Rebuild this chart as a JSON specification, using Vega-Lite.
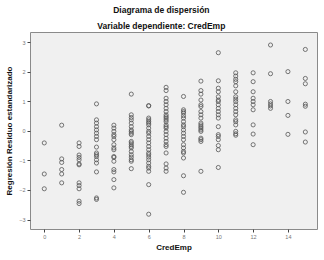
{
  "$schema": "https://vega.github.io/schema/vega-lite/v6.json",
  "width": 287,
  "height": 197,
  "autosize": {"type": "none"},
  "padding": {"left": 30, "top": 32, "right": 7, "bottom": 31},
  "background": "white",
  "title": {
    "text": "Diagrama de dispersión",
    "subtitle": "Variable dependiente: CredEmp",
    "anchor": "middle",
    "frame": "bounds",
    "font": "Liberation Sans",
    "fontSize": 8.5,
    "fontWeight": "bold",
    "color": "#111",
    "subtitleFont": "Liberation Sans",
    "subtitleFontSize": 8.5,
    "subtitleFontWeight": "bold",
    "subtitleColor": "#111",
    "subtitlePadding": 7,
    "offset": 2
  },
  "config": {
    "view": {"fill": "#f0f0f0", "stroke": "#8a8a8a", "strokeWidth": 1},
    "axis": {
      "grid": false,
      "domain": false,
      "ticks": true,
      "tickSize": 3,
      "tickColor": "#444",
      "labelFont": "Liberation Sans",
      "labelFontSize": 5.5,
      "labelColor": "#777",
      "labelPadding": 2,
      "titleFont": "Liberation Sans",
      "titleFontSize": 8,
      "titleFontWeight": "bold",
      "titleColor": "#111"
    }
  },
  "data": {
    "values": [
      {"x":0,"y":-0.41},{"x":0,"y":-1.46},{"x":0,"y":-1.96},
      {"x":1,"y":0.19},{"x":1,"y":-0.95},{"x":1,"y":-1.07},{"x":1,"y":-1.31},{"x":1,"y":-1.46},{"x":1,"y":-1.76},
      {"x":2,"y":-0.41},{"x":2,"y":-0.53},{"x":2,"y":-0.82},{"x":2,"y":-0.9},{"x":2,"y":-0.98},{"x":2,"y":-1.12},{"x":2,"y":-1.15},{"x":2,"y":-1.76},{"x":2,"y":-1.85},{"x":2,"y":-1.96},{"x":2,"y":-2.38},{"x":2,"y":-2.46},
      {"x":3,"y":0.91},{"x":3,"y":0.37},{"x":3,"y":0.26},{"x":3,"y":0.14},{"x":3,"y":0.03},{"x":3,"y":-0.08},{"x":3,"y":-0.19},{"x":3,"y":-0.3},{"x":3,"y":-0.55},{"x":3,"y":-0.75},{"x":3,"y":-0.81},{"x":3,"y":-0.87},{"x":3,"y":-0.98},{"x":3,"y":-1.09},{"x":3,"y":-1.39},{"x":3,"y":-2.27},{"x":3,"y":-2.32},
      {"x":4,"y":0.19},{"x":4,"y":0.09},{"x":4,"y":-0.02},{"x":4,"y":-0.13},{"x":4,"y":-0.19},{"x":4,"y":-0.3},{"x":4,"y":-0.47},{"x":4,"y":-0.58},{"x":4,"y":-0.64},{"x":4,"y":-0.87},{"x":4,"y":-0.9},{"x":4,"y":-1.03},{"x":4,"y":-1.31},{"x":4,"y":-1.39},{"x":4,"y":-1.65},{"x":4,"y":-1.93},
      {"x":5,"y":1.24},{"x":5,"y":0.54},{"x":5,"y":0.45},{"x":5,"y":0.37},{"x":5,"y":0.26},{"x":5,"y":0.14},{"x":5,"y":0.03},{"x":5,"y":-0.02},{"x":5,"y":-0.08},{"x":5,"y":-0.13},{"x":5,"y":-0.36},{"x":5,"y":-0.41},{"x":5,"y":-0.47},{"x":5,"y":-0.53},{"x":5,"y":-0.58},{"x":5,"y":-0.7},{"x":5,"y":-0.81},{"x":5,"y":-0.89},{"x":5,"y":-0.98},{"x":5,"y":-1.03},{"x":5,"y":-1.28},
      {"x":6,"y":0.84},{"x":6,"y":0.85},{"x":6,"y":0.43},{"x":6,"y":0.37},{"x":6,"y":0.31},{"x":6,"y":0.26},{"x":6,"y":0.2},{"x":6,"y":0.09},{"x":6,"y":-0.02},{"x":6,"y":-0.08},{"x":6,"y":-0.19},{"x":6,"y":-0.3},{"x":6,"y":-0.41},{"x":6,"y":-0.53},{"x":6,"y":-0.64},{"x":6,"y":-0.75},{"x":6,"y":-0.81},{"x":6,"y":-0.89},{"x":6,"y":-0.98},{"x":6,"y":-1.09},{"x":6,"y":-1.2},{"x":6,"y":-1.26},{"x":6,"y":-1.37},{"x":6,"y":-1.82},{"x":6,"y":-2.82},
      {"x":7,"y":1.47},{"x":7,"y":1.36},{"x":7,"y":1.1},{"x":7,"y":0.99},{"x":7,"y":0.88},{"x":7,"y":0.76},{"x":7,"y":0.65},{"x":7,"y":0.54},{"x":7,"y":0.48},{"x":7,"y":0.43},{"x":7,"y":0.37},{"x":7,"y":0.31},{"x":7,"y":0.2},{"x":7,"y":0.14},{"x":7,"y":0.09},{"x":7,"y":-0.02},{"x":7,"y":-0.13},{"x":7,"y":-0.25},{"x":7,"y":-0.36},{"x":7,"y":-0.47},{"x":7,"y":-0.53},{"x":7,"y":-0.75},{"x":7,"y":-1.12},{"x":7,"y":-1.26},{"x":7,"y":-1.37},
      {"x":8,"y":1.16},{"x":8,"y":0.71},{"x":8,"y":0.65},{"x":8,"y":0.6},{"x":8,"y":0.51},{"x":8,"y":0.43},{"x":8,"y":0.31},{"x":8,"y":0.2},{"x":8,"y":0.14},{"x":8,"y":0.03},{"x":8,"y":-0.08},{"x":8,"y":-0.19},{"x":8,"y":-0.3},{"x":8,"y":-0.47},{"x":8,"y":-0.58},{"x":8,"y":-0.7},{"x":8,"y":-0.75},{"x":8,"y":-0.92},{"x":8,"y":-1.52},{"x":8,"y":-2.08},
      {"x":9,"y":1.68},{"x":9,"y":1.36},{"x":9,"y":1.24},{"x":9,"y":1.04},{"x":9,"y":0.88},{"x":9,"y":0.82},{"x":9,"y":0.65},{"x":9,"y":0.54},{"x":9,"y":0.43},{"x":9,"y":0.26},{"x":9,"y":0.2},{"x":9,"y":0.14},{"x":9,"y":0.09},{"x":9,"y":0.03},{"x":9,"y":-0.02},{"x":9,"y":-0.25},{"x":9,"y":-0.3},{"x":9,"y":-0.36},{"x":9,"y":-1.37},
      {"x":10,"y":2.64},{"x":10,"y":1.69},{"x":10,"y":1.44},{"x":10,"y":1.32},{"x":10,"y":1.15},{"x":10,"y":1.04},{"x":10,"y":0.99},{"x":10,"y":0.88},{"x":10,"y":0.76},{"x":10,"y":0.65},{"x":10,"y":0.54},{"x":10,"y":0.43},{"x":10,"y":0.14},{"x":10,"y":-0.13},{"x":10,"y":-0.19},{"x":10,"y":-0.3},{"x":10,"y":-0.5},{"x":10,"y":-0.64},{"x":10,"y":-1.24},
      {"x":11,"y":1.96},{"x":11,"y":1.85},{"x":11,"y":1.74},{"x":11,"y":1.66},{"x":11,"y":1.52},{"x":11,"y":1.32},{"x":11,"y":1.15},{"x":11,"y":1.07},{"x":11,"y":0.99},{"x":11,"y":0.88},{"x":11,"y":0.76},{"x":11,"y":0.65},{"x":11,"y":0.54},{"x":11,"y":0.37},{"x":11,"y":0.31},{"x":11,"y":0.2},{"x":11,"y":-0.02},{"x":11,"y":-0.1},{"x":11,"y":-0.15},
      {"x":12,"y":1.96},{"x":12,"y":1.66},{"x":12,"y":1.32},{"x":12,"y":1.1},{"x":12,"y":0.99},{"x":12,"y":0.88},{"x":12,"y":0.71},{"x":12,"y":0.2},{"x":12,"y":-0.11},{"x":12,"y":-0.47},
      {"x":13,"y":2.9},{"x":13,"y":1.93},{"x":13,"y":0.99},{"x":13,"y":0.91},{"x":13,"y":0.84},{"x":13,"y":0.76},
      {"x":14,"y":2.0},{"x":14,"y":0.99},{"x":14,"y":0.52},{"x":14,"y":-0.12},
      {"x":15,"y":2.75},{"x":15,"y":1.77},{"x":15,"y":1.59},{"x":15,"y":0.9},{"x":15,"y":0.83},{"x":15,"y":-0.04},{"x":15,"y":-0.38}
    ]
  },
  "mark": {"type": "point", "shape": "circle", "filled": false, "size": 17, "strokeWidth": 0.8, "color": "#555", "opacity": 1},
  "encoding": {
    "x": {
      "field": "x", "type": "quantitative", "title": "CredEmp",
      "scale": {"domain": [-0.82, 15.67], "nice": false, "zero": false},
      "axis": {"values": [0, 2, 4, 6, 8, 10, 12, 14], "titlePadding": 4}
    },
    "y": {
      "field": "y", "type": "quantitative", "title": "Regresión Residuo estandarizado",
      "scale": {"domain": [-3.32, 3.34], "nice": false, "zero": false},
      "axis": {"values": [-3, -2, -1, 0, 1, 2, 3], "titlePadding": 5}
    }
  }
}
